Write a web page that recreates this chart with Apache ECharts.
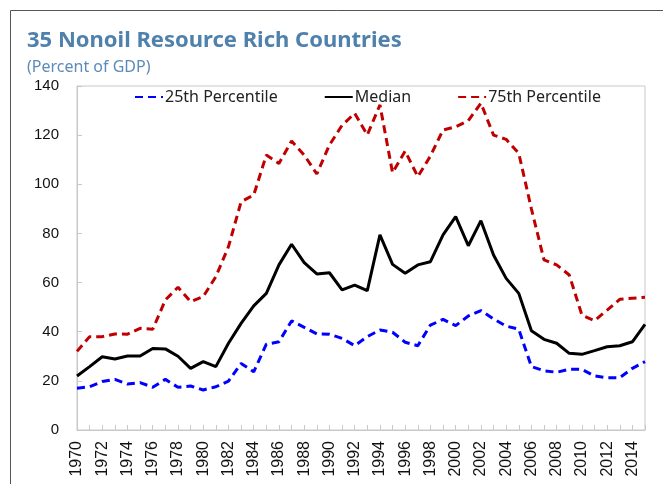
<!DOCTYPE html>
<html>
<head>
<meta charset="utf-8">
<script src="https://cdn.jsdelivr.net/npm/echarts@6/dist/echarts.min.js"></script>
<style>
  html, body { margin: 0; padding: 0; background: #fff; }
  #chart { width: 663px; height: 484px; }
</style>
</head>
<body>
<div id="chart"></div>
<script>
// years 1970-2015
var years = [];
for (var y = 1970; y <= 2015; y++) years.push(String(y));

var p25 = [17, 17.6, 19.7, 20.6, 18.7, 19.3, 17.4, 20.6, 17.4, 17.9,
           16.3, 17.6, 19.9, 27.1, 23.7, 34.9, 35.9, 44.4, 41.8, 39.1,
           39, 37.3, 34.3, 38, 40.7, 39.8, 35.7, 34.3, 42.7, 45,
           42.5, 46.4, 48.6, 45.2, 42.3, 41, 25.8, 24.1, 23.5, 24.7,
           24.7, 22, 21.3, 21.3, 25.1, 27.8];
var median = [22, 25.8, 29.8, 28.9, 30.1, 30.1, 33.2, 33, 30, 25.1,
              27.8, 25.8, 35.3, 43.4, 50.5, 55.6, 67.2, 75.6, 68.1, 63.5,
              64, 57, 59, 56.7, 79.4, 67.4, 63.8, 67.2, 68.5, 79.4,
              86.8, 75, 85.2, 71.2, 61.7, 55.6, 40.4, 36.9, 35.3, 31.2,
              30.8, 32.3, 33.9, 34.3, 35.9, 43];
var p75 = [32, 38, 38, 39.1, 39, 41.4, 41, 52.9, 58.1, 52.2,
           54.3, 62.4, 74.6, 92.9, 95.6, 111.9, 108.5, 117.6, 111.9, 104.2,
           116, 124, 128.9, 120.1, 132.3, 104.7, 113.5, 103.1, 111.5, 122.1,
           123.4, 125.9, 133, 120, 118.3, 112.6, 90, 69.2, 67.2, 63.1,
           46.8, 44.5, 48.8, 53.2, 53.6, 54];

var chart = echarts.init(document.getElementById('chart'));
var font = 'Noto Sans';

var option = {
    animation: false,
    title: {
        text: '35 Nonoil Resource Rich Countries',
        subtext: '(Percent of GDP)',
        left: 22,
        top: 25,
        itemGap: 7,
        textStyle: { fontFamily: font, fontSize: 22, fontWeight: 'bold', color: '#4f81ad' },
        subtextStyle: { fontFamily: font, fontSize: 16, color: '#5b8bbb' }
    },
    graphic: [{
        type: 'rect',
        shape: { x: 10.5, y: 10.5, width: 700, height: 500 },
        style: { fill: 'none', stroke: '#555', lineWidth: 1 },
        silent: true
    }],
    legend: {
        top: 84,
        left: 129,
        itemGap: 46,
        itemWidth: 28,
        itemHeight: 2,
        textStyle: { fontFamily: font, fontSize: 16, color: '#222', padding: [0, 0, 0, -3] },
        data: ['25th Percentile', 'Median', '75th Percentile']
    },
    grid: {
        left: 77, right: 18, top: 86, bottom: 54,
        show: true, borderColor: '#c8c8c8', borderWidth: 1
    },
    xAxis: {
        type: 'category',
        data: years,
        boundaryGap: false,
        axisLine: { lineStyle: { color: '#c8c8c8' } },
        axisTick: { inside: true, interval: 0, length: 5, lineStyle: { color: '#c8c8c8' } },
        axisLabel: {
            interval: 1, rotate: 90, margin: 11,
            fontFamily: 'Liberation Sans', fontSize: 16, color: '#111'
        }
    },
    yAxis: {
        type: 'value',
        min: 0, max: 140, interval: 20,
        axisLine: { show: true, lineStyle: { color: '#c8c8c8' } },
        axisTick: { show: true, inside: true, length: 5, lineStyle: { color: '#c8c8c8' } },
        splitLine: { show: false },
        axisLabel: { margin: 18, fontFamily: 'Liberation Sans', fontSize: 15, color: '#111' }
    },
    series: [
        {
            name: '25th Percentile', type: 'line', data: p25,
            symbol: 'none',
            itemStyle: { color: '#0000ff' },
            lineStyle: { color: '#0000ff', width: 3, type: [8, 5] }
        },
        {
            name: 'Median', type: 'line', data: median,
            symbol: 'none',
            itemStyle: { color: '#000' },
            lineStyle: { color: '#000', width: 3 }
        },
        {
            name: '75th Percentile', type: 'line', data: p75,
            symbol: 'none',
            itemStyle: { color: '#c00000' },
            lineStyle: { color: '#c00000', width: 3, type: [8, 5] }
        }
    ]
};

chart.setOption(option);
</script>
</body>
</html>
